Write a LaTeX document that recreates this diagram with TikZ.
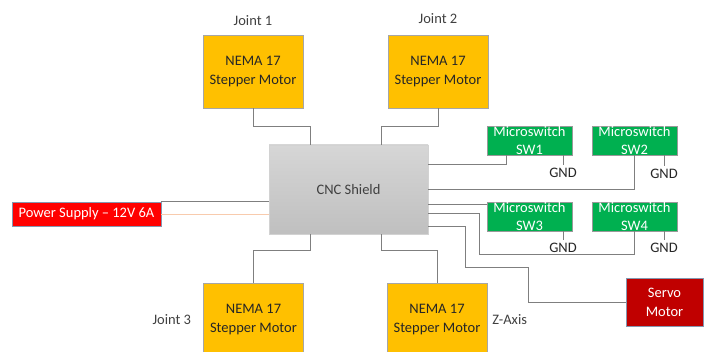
\documentclass[tikz,border=0pt]{standalone}
\usepackage{fontspec}
\setmainfont{Carlito}
\usetikzlibrary{positioning,shadings}
\definecolor{motoryellow}{HTML}{FFC000}
\definecolor{swgreen}{HTML}{00B050}
\definecolor{servored}{HTML}{C00000}
\definecolor{wiregray}{HTML}{7F7F7F}
\definecolor{peach}{HTML}{F8CBAD}
\definecolor{edgeblue}{HTML}{8497B0}
\definecolor{txtgray}{HTML}{404040}

\begin{document}
\begin{tikzpicture}[x=1pt,y=-1pt,
			motor/.style={
				draw=gray!70,
				fill=motoryellow,
				minimum width=100pt,
				minimum height=73pt,
				inner sep=0pt,
				align=center,
				text=black!85,
				font=\fontsize{14.5}{19}\selectfont
			},
			swbox/.style={
				draw=wiregray!80,
				fill=swgreen,
				minimum width=85pt,
				minimum height=29pt,
				inner sep=0pt,
				align=center,
				text=white,
				font=\fontsize{14.5}{17.5}\selectfont
			},
			supply/.style={
				draw=edgeblue,
				fill=red,
				minimum width=149pt,
				minimum height=24pt,
				inner sep=0pt,
				text=white,
				font=\fontsize{14.5}{17}\selectfont
			},
			servo/.style={
				draw=edgeblue,
				fill=servored,
				minimum width=77pt,
				minimum height=48pt,
				inner sep=0pt,
				align=center,
				text=white,
				font=\fontsize{14.5}{19}\selectfont
			},
			shield/.style={
				draw=gray!35,
				top color=gray!32,
				bottom color=gray!50,
				minimum width=159pt,
				minimum height=89pt,
				text=txtgray,
				font=\fontsize{14.5}{17}\selectfont
			},
			tag/.style={
				inner sep=0pt,
				text=txtgray,
				font=\fontsize{14.5}{17}\selectfont
			},
			gnd/.style={
				inner sep=3pt,
				text=black!85,
				font=\fontsize{14.5}{17}\selectfont
			},
			wire/.style={draw=wiregray, line width=0.9pt}
			]
			\useasboundingbox (0,0) rectangle (708,352);

			% motors
			\node[motor,label={[tag,label distance=9pt]above:Joint 1}] (m1) at (253,71.5)
				{NEMA 17\\Stepper Motor};
			\node[motor,label={[tag,label distance=11pt]above:Joint 2}] (m2) at (438,71.5)
				{NEMA 17\\Stepper Motor};
			\node[motor,label={[tag,label distance=12pt]left:Joint 3}] (m3) at (253.5,319.5)
				{NEMA 17\\Stepper Motor};
			\node[motor,label={[tag,label distance=5pt]right:Z-Axis}] (m4) at (437,319.5)
				{NEMA 17\\Stepper Motor};

			\node[shield] (cnc) at (348.5,189.5) {CNC Shield};
			\node[supply] (psu) at (86.5,214) {Power Supply – 12V 6A};
			\node[servo] (servo) at (664.5,302) {Servo\\Motor};

			% switches
			\node[swbox] (sw1) at (529.5,140.5) {Microswitch\\SW1};
			\node[swbox] (sw2) at (634.5,140.5) {Microswitch\\SW2};
			\node[swbox] (sw3) at (529.5,216.5) {Microswitch\\SW3};
			\node[swbox] (sw4) at (634.5,216.5) {Microswitch\\SW4};

			\node[gnd] (g1) at (563,173) {GND};
			\node[gnd] (g2) at (664,174) {GND};
			\node[gnd] (g3) at (563,248) {GND};
			\node[gnd] (g4) at (664,248) {GND};

			\draw[wire] (g1 |- sw1.south) -- (g1.north);
			\draw[wire] (g2 |- sw2.south) -- (g2.north);
			\draw[wire] (g3 |- sw3.south) -- (g3.north);
			\draw[wire] (g4 |- sw4.south) -- (g4.north);

			% motor wires
			\draw[wire] (m1.south) -- ++(0,18) -| ([xshift=-38pt]cnc.north);
			\draw[wire] (m2.south) -- ++(0,18) -| ([xshift=32.5pt]cnc.north);
			\draw[wire] (m3.north) -- ++(0,-32) -| ([xshift=-38pt]cnc.south);
			\draw[wire] (m4.north) -- ++(0,-32) -| ([xshift=32.5pt]cnc.south);

			% power
			\draw[wire] (psu.north east) -- (psu.north east -| cnc.west);
			\draw[wire,draw=peach] (psu.east) -- (psu.east -| cnc.west);

			% switch and servo signals
			\coordinate (s3) at ([yshift=-14.5pt]cnc.east);
			\coordinate (s4) at ([yshift=-23.5pt]cnc.east);
			\coordinate (s5) at ([yshift=-36.5pt]cnc.east);
			\draw[wire] ([yshift=25.5pt]cnc.east) -| ([xshift=-23.5pt]sw1.south);
			\draw[wire] (cnc.east) -| (sw2.south);
			\draw[wire] (s3) -- (s3 -| sw3.west);
			\draw[wire] (s4) -- ++(51,0) -- ++(0,41) -| (sw4.south);
			\draw[wire] (s5) -- ++(37,0) -- ++(0,41) -- ++(63,0) |- (servo.west);
\end{tikzpicture}
\end{document}
